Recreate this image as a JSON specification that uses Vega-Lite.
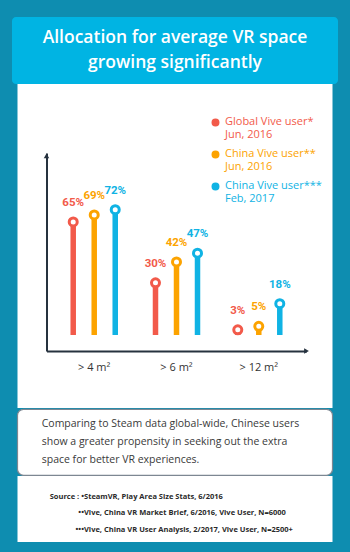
{
  "$schema": "https://vega.github.io/schema/vega-lite/v6.json",
  "background": "#0e8db0",
  "padding": {"left": 12, "right": 12, "top": 17, "bottom": 12},
  "spacing": 0,
  "center": true,
  "config": {"font": "Open Sans", "view": {"stroke": null}},
  "datasets": {
    "title": [{"text": "Allocation for average VR space\ngrowing significantly"}],
    "allocation": [
      {"area": "> 4 m²", "group": "Global Vive user*", "pct": 65},
      {"area": "> 4 m²", "group": "China Vive user**", "pct": 69},
      {"area": "> 4 m²", "group": "China Vive user***", "pct": 72},
      {"area": "> 6 m²", "group": "Global Vive user*", "pct": 30},
      {"area": "> 6 m²", "group": "China Vive user**", "pct": 42},
      {"area": "> 6 m²", "group": "China Vive user***", "pct": 47},
      {"area": "> 12 m²", "group": "Global Vive user*", "pct": 3},
      {"area": "> 12 m²", "group": "China Vive user**", "pct": 5},
      {"area": "> 12 m²", "group": "China Vive user***", "pct": 18}
    ],
    "note": [{"text": "Comparing to Steam data global-wide, Chinese users\nshow a greater propensity in seeking out the extra\nspace for better VR experiences."}],
    "sources": [
      {"n": 1, "marker": "Source : •", "source": " SteamVR, Play Area Size Stats, 6/2016"},
      {"n": 2, "marker": "••", "source": "Vive, China VR Market Brief, 6/2016, Vive User, N=6000"},
      {"n": 3, "marker": "•••", "source": "Vive, China VR User Analysis, 2/2017, Vive User, N=2500+"}
    ]
  },
  "vconcat": [
    {
      "width": 326,
      "height": 67,
      "view": {"fill": "#00b4e3", "stroke": null, "cornerRadius": 4},
      "data": {"name": "title"},
      "mark": {"type": "text", "color": "white", "fontSize": 17.5, "fontWeight": 600, "lineBreak": "\n", "lineHeight": 25, "align": "center", "baseline": "middle", "dy": -12.5, "font": "Open Sans"},
      "encoding": {"text": {"field": "text"}}
    },
    {
      "width": 315,
      "height": 324,
      "view": {"fill": "white", "stroke": null},
      "resolve": {"scale": {"x": "independent"}, "axis": {"x": "independent"}},
      "layer": [
        {
          "data": {"name": "allocation"},
          "transform": [{"calculate": "datum.pct + '%'", "as": "label"}],
          "encoding": {
            "x": {
              "field": "area", "type": "nominal", "sort": null,
              "scale": {"range": [29, 289], "paddingInner": 0.2, "paddingOuter": 0.18},
              "axis": {"orient": "bottom", "offset": -57, "title": null, "ticks": false, "labelAngle": 0, "labelPadding": 10, "labelFontSize": 11, "labelColor": "#333333", "domainColor": "#26323f", "domainWidth": 2}
            },
            "xOffset": {"field": "group", "sort": null, "scale": {"paddingInner": 0, "paddingOuter": 0.067}},
            "y": {
              "field": "pct", "type": "quantitative",
              "scale": {"domain": [-9.2, 104.6], "range": [267, 69], "nice": false, "zero": false},
              "axis": {"orient": "left", "offset": -29, "title": null, "ticks": false, "labels": false, "grid": false, "domainColor": "#26323f", "domainWidth": 2}
            },
            "color": {
              "field": "group", "type": "nominal", "sort": null,
              "scale": {"domain": ["Global Vive user*", "China Vive user**", "China Vive user***"], "range": ["#f25a4a", "#fca300", "#10b3e4"]},
              "legend": {
                "title": null, "orient": "none", "legendX": 198, "legendY": 100, "padding": 0,
                "labelExpr": "datum.label == 'Global Vive user*' ? ['Global Vive user*', '\u00a0Jun, 2016'] : datum.label == 'China Vive user**' ? ['China Vive user**', 'Jun, 2016'] : ['China Vive user***', 'Feb, 2017']",
                "labelFontSize": 11, "labelFont": "Open Sans", "labelOffset": 4, "rowPadding": 6,
                "symbolType": "circle", "symbolSize": 30, "symbolStrokeWidth": 2.5,
                "labelBaseline": "top",
                "encode": {
                  "labels": {"update": {"fill": {"scale": "color", "field": "value"}, "dy": {"value": -7}, "lineHeight": {"value": 13.5}}},
                  "symbols": {"update": {"fill": {"value": "white"}, "stroke": {"scale": "color", "field": "value"}, "strokeWidth": {"value": 2.5}}}
                }
              }
            }
          },
          "layer": [
            {"mark": {"type": "bar", "width": 5.5, "cornerRadiusBottom": 2.75}},
            {"mark": {"type": "point", "filled": false, "fill": "white", "shape": "circle", "size": 64, "strokeWidth": 3, "opacity": 1}},
            {"mark": {"type": "text", "font": "Roboto", "fontSize": 11.5, "fontWeight": "bold", "dy": -19, "baseline": "middle"}, "encoding": {"text": {"field": "label"}}}
          ]
        },
        {
          "data": {"values": [{"arrow": "y-axis"}]},
          "mark": {"type": "point", "shape": "triangle-up", "filled": true, "size": 30, "color": "#26323f", "opacity": 1},
          "encoding": {
            "x": {"datum": 0, "type": "quantitative", "scale": {"domain": [0, 1], "range": [29, 289]}, "axis": null},
            "y": {"datum": 103}
          }
        },
        {
          "data": {"values": [{"arrow": "x-axis"}]},
          "mark": {"type": "point", "shape": "triangle-right", "filled": true, "size": 30, "color": "#26323f", "opacity": 1},
          "encoding": {
            "x": {"datum": 1, "type": "quantitative", "scale": {"domain": [0, 1], "range": [29, 289]}, "axis": null},
            "y": {"datum": -9.2}
          }
        }
      ]
    },
    {
      "width": 315,
      "height": 66,
      "view": {"fill": "white", "stroke": "#7d8792", "strokeWidth": 1.2, "cornerRadius": 6},
      "data": {"name": "note"},
      "mark": {"type": "text", "align": "left", "baseline": "middle", "dx": -133, "dy": -18, "fontSize": 10.5, "lineBreak": "\n", "lineHeight": 18, "color": "#3a3a3a"},
      "encoding": {"text": {"field": "text"}}
    },
    {
      "width": 315,
      "height": 66,
      "view": {"fill": "white", "stroke": null},
      "data": {"name": "sources"},
      "encoding": {
        "y": {"field": "n", "type": "ordinal", "axis": null, "scale": {"type": "point", "padding": 1.357, "align": 0.63}}
      },
      "layer": [
        {"mark": {"type": "text", "align": "right", "dx": -91, "fontSize": 7.5, "fontWeight": "bold", "color": "#2a2a2a"}, "encoding": {"text": {"field": "marker"}}},
        {"mark": {"type": "text", "align": "left", "dx": -91, "fontSize": 7.5, "fontWeight": "bold", "color": "#2a2a2a"}, "encoding": {"text": {"field": "source"}}}
      ]
    }
  ]
}
